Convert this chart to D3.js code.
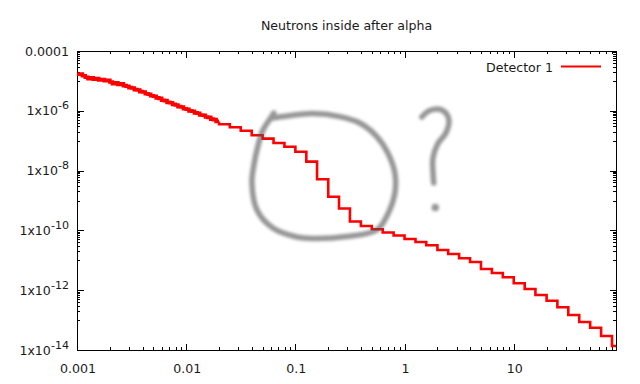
<!DOCTYPE html>
<html><head><meta charset="utf-8">
<script src="https://cdn.jsdelivr.net/npm/d3@7"></script>
<style>body{margin:0;background:#fff}svg{display:block}</style>
</head><body>
<script>
// ---------- data ----------
const title = "Neutrons inside after alpha";
const seriesName = "Detector 1";
// fine-binned low-energy part (bin start x, value)
const fineX = [0.001,0.00106,0.00112,0.00119,0.00126,0.00133,0.00141,0.0015,0.00158,0.00168,0.00178,0.00188,
  0.002,0.00211,0.00224,0.00237,0.00251,0.00266,0.00282,0.00299,0.00316,0.00335,0.00355,0.00376,0.00398,0.00422,
  0.00447,0.00473,0.00501,0.00531,0.00562,0.00596,0.00631,0.00668,0.00708,0.0075,0.00794,0.00841,0.00891,0.00944,
  0.01,0.0106,0.0112,0.0119,0.0126,0.0133,0.0141,0.015,0.0158,0.0168,0.0178,0.0188];
const fineY = [1.66e-5,1.70e-5,1.48e-5,1.33e-5,1.19e-5,1.27e-5,1.14e-5,1.19e-5,1.07e-5,1.12e-5,1.02e-5,1.05e-5,
  9.19e-6,8.13e-6,8.63e-6,7.64e-6,8.00e-6,6.97e-6,6.65e-6,5.97e-6,5.79e-6,5.12e-6,4.96e-6,4.39e-6,4.26e-6,3.71e-6,
  3.59e-6,3.18e-6,3.08e-6,2.70e-6,2.60e-6,2.26e-6,2.19e-6,1.92e-6,1.85e-6,1.64e-6,1.57e-6,1.38e-6,1.34e-6,1.17e-6,
  1.13e-6,9.93e-7,9.70e-7,8.51e-7,8.24e-7,7.24e-7,7.08e-7,6.21e-7,6.01e-7,5.27e-7,5.08e-7,4.42e-7];
// coarse log bins (bin start x, value)
const binX = [0.02,0.0251,0.0316,0.0398,0.0501,0.0631,0.0794,0.1,0.126,0.158,0.2,0.251,0.316,0.398,0.501,0.631,0.794,
  1,1.26,1.58,2,2.51,3.16,3.98,5.01,6.31,7.94,10,12.6,15.8,20,25.1,31.6,39.8,50.1,63.1,79.4];
const binY = [3.53e-7,2.81e-7,2.16e-7,1.52e-7,1.17e-7,8.4e-8,6.3e-8,4.29e-8,1.99e-8,5.12e-9,1.34e-9,5.4e-10,1.99e-10,
  1.40e-10,1.09e-10,8.5e-11,6.75e-11,5.15e-11,4.09e-11,3.18e-11,2.21e-11,1.62e-11,1.17e-11,8.8e-12,5.12e-12,3.76e-12,
  2.70e-12,1.70e-12,1.10e-12,6.9e-13,4.46e-13,2.68e-13,1.48e-13,8.6e-14,5.57e-14,2.94e-14,1.36e-14];
const xDomain = [0.001, 86.4];
const yDomain = [1e-14, 1e-4];
const xTicks = [0.001,0.01,0.1,1,10];
const xTickLabels = ["0.001","0.01","0.1","1","10"];
const yTicks = [1e-4,1e-6,1e-8,1e-10,1e-12,1e-14];
const yTickLabels = [["0.0001",""],["1x10","-6"],["1x10","-8"],["1x10","-10"],["1x10","-12"],["1x10","-14"]];
// hand-drawn annotation (data coordinates)
const loopPts = [[0.061,5.7e-7],[0.0836,6.7e-7],[0.1445,8.1e-7],[0.255,6.4e-7],[0.389,3.9e-7],[0.557,1.38e-7],
  [0.703,3.88e-8],[0.815,8.3e-9],[0.815,1.78e-9],[0.689,3.03e-10],[0.557,1.03e-10],[0.296,6.25e-11],[0.1445,5.36e-11],
  [0.1033,6.0e-11],[0.0622,1.2e-10],[0.0445,4.8e-10],[0.040,3.85e-9],[0.0417,1.54e-8],[0.0454,6.65e-8],[0.0505,2.28e-7],
  [0.0585,5.3e-7],[0.0635,8.4e-7]];
const qPts = [[1.44,6.2e-7],[1.70,1.02e-6],[2.19,1.06e-6],[2.54,5.3e-7],[2.39,1.81e-7],[2.01,7.8e-8],[1.82,2.64e-8],
  [1.82,8.98e-9],[1.85,3.85e-9]];
const qDot = [1.91,5.83e-10];

// ---------- layout ----------
const W=640,H=384, L=77, R=616, T=51, B=350;
const FONT = "DejaVu Sans, sans-serif", FS = 12.6, TXT="#1a1a1a";
const svg = d3.select("body").append("svg").attr("width",W).attr("height",H)
  .style("font-family",FONT).style("font-size",FS+"px");
const x = d3.scaleLog().domain(xDomain).range([L,R]);
const y = d3.scaleLog().domain(yDomain).range([B,T]);

// minor ticks
const xMinor = [];
xTicks.forEach(t=>{[2,3,4,5,6,7,8,9].forEach(m=>{const v=t*m; if(v<=xDomain[1]) xMinor.push(v);});});
const yMinor = [];
yTicks.slice(1).forEach(t=>{[10,20,30,40,50,60,70,80,90].forEach(m=>yMinor.push(t*m));});

const g = svg.append("g").attr("shape-rendering","crispEdges");
function tickLine(x1,y1,x2,y2){g.append("line").attr("x1",x1).attr("y1",y1).attr("x2",x2).attr("y2",y2).attr("stroke","#000").attr("stroke-width",1);}
const MAJ=6.5, MIN=3.2;
xTicks.forEach(t=>{const p=Math.round(x(t))+0.5; tickLine(p,B,p,B-MAJ); tickLine(p,T,p,T+MAJ);});
xMinor.forEach(t=>{const p=Math.round(x(t))+0.5; tickLine(p,B,p,B-MIN); tickLine(p,T,p,T+MIN);});
yTicks.forEach(t=>{const p=Math.round(y(t))+0.5; tickLine(L,p,L+MAJ,p); tickLine(R,p,R-MAJ,p);});
yMinor.forEach(t=>{const p=Math.round(y(t))+0.5; tickLine(L,p,L+MIN,p); tickLine(R,p,R-MIN,p);});
g.append("rect").attr("x",L+0.5).attr("y",T+0.5).attr("width",R-L).attr("height",B-T)
  .attr("fill","none").attr("stroke","#000").attr("stroke-width",1);

// tick labels
xTicks.forEach((t,i)=>{
  svg.append("text").attr("x",x(t)+1).attr("y",B+23).attr("text-anchor","middle").attr("fill",TXT).text(xTickLabels[i]);
});
yTicks.forEach((t,i)=>{
  const tx = svg.append("text").attr("x",69).attr("y",y(t)+4.6).attr("text-anchor","end").attr("fill",TXT);
  tx.append("tspan").text(yTickLabels[i][0]);
  if(yTickLabels[i][1]) tx.append("tspan").attr("dy",-6).style("font-size",(FS*0.88)+"px").text(yTickLabels[i][1]);
});

// title
svg.append("text").attr("x",(L+R)/2).attr("y",30).attr("text-anchor","middle").attr("fill",TXT).text(title);

// data line
const finePts = fineX.map((v,i)=>[v,fineY[i]]);
const coarsePts = binX.map((v,i)=>[v,binY[i]]);
coarsePts.push([xDomain[1], binY[binY.length-1]]);
const stepLine = d3.line().x(d=>x(d[0])).y(d=>y(d[1])).curve(d3.curveStepAfter);
svg.append("defs").append("clipPath").attr("id","clip").append("rect").attr("x",L).attr("y",T).attr("width",R-L+1).attr("height",B-T);
svg.append("path").datum(finePts.concat([[binX[0],fineY[fineY.length-1]]])).attr("clip-path","url(#clip)")
  .attr("d", stepLine).attr("fill","none").attr("stroke","#ff0000").attr("stroke-width",3.6);
svg.append("path").datum([[binX[0],fineY[fineY.length-1]]].concat(coarsePts)).attr("clip-path","url(#clip)")
  .attr("d", stepLine).attr("fill","none").attr("stroke","#ff0000").attr("stroke-width",2.6);

// legend
svg.append("text").attr("x",553).attr("y",71.5).attr("text-anchor","end").attr("fill",TXT).text(seriesName);
svg.append("line").attr("x1",561).attr("x2",601).attr("y1",66.5).attr("y2",66.5).attr("stroke","#ff0000").attr("stroke-width",2);

// hand-drawn annotation
const f = svg.select("defs").append("filter").attr("id","blur").attr("x","-20%").attr("y","-20%").attr("width","140%").attr("height","140%");
f.append("feGaussianBlur").attr("stdDeviation",1.4);
const ann = svg.append("g").attr("filter","url(#blur)").attr("opacity",0.62);
const aLine = d3.line().x(d=>x(d[0])).y(d=>y(d[1])).curve(d3.curveCatmullRom);
ann.append("path").attr("d",aLine(loopPts)).attr("fill","none").attr("stroke","#555").attr("stroke-width",5.5).attr("stroke-linecap","round");
ann.append("path").attr("d",aLine(qPts)).attr("fill","none").attr("stroke","#555").attr("stroke-width",5.5).attr("stroke-linecap","round");
ann.append("circle").attr("cx",x(qDot[0])).attr("cy",y(qDot[1])).attr("r",3.8).attr("fill","#555");
</script>
</body></html>
